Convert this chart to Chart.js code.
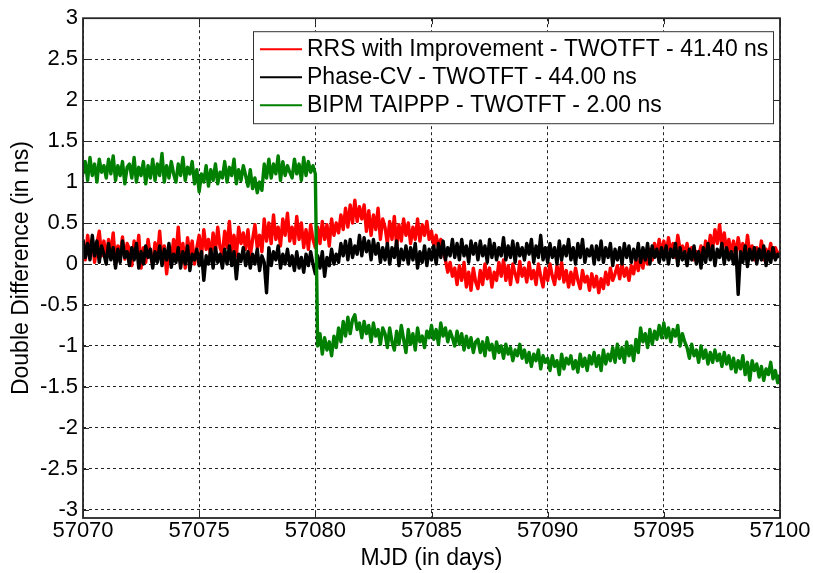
<!DOCTYPE html>
<html>
<head>
<meta charset="utf-8">
<script src="https://cdn.jsdelivr.net/npm/chart.js@4.4.1/dist/chart.umd.min.js"></script>
<style>
  html, body { margin: 0; padding: 0; background: #fff; }
  #c { display: block; }
</style>
</head>
<body>
<canvas id="c" width="813" height="573"></canvas>
<script>
/* Double difference vs TWOTFT, MJD 57070-57100 */

const MJD_START = 57070;
const MJD_STEP = 0.1; // one reading every 0.1 day, 10 per row below

const xTicks = [57070, 57075, 57080, 57085, 57090, 57095, 57100];
const yTicks = [-3, -2.5, -2, -1.5, -1, -0.5, 0, 0.5, 1, 1.5, 2, 2.5, 3];

const seriesNames = [
  'RRS with Improvement - TWOTFT - 41.40 ns',
  'Phase-CV - TWOTFT - 44.00 ns',
  'BIPM TAIPPP - TWOTFT - 2.00 ns'
];
const seriesColors = ['#ff0000', '#000000', '#008000'];

// RRS with Improvement
const rrs = [
  0.22, 0.05, 0.35, 0.12, 0.30, 0.02, 0.25, 0.40, 0.10, 0.28,
  0.05, 0.30, 0.12, 0.38, 0.00, 0.22, 0.10, 0.33, 0.06, 0.25,
  0.18, -0.02, 0.28, 0.08, 0.35, -0.05, 0.20, 0.02, 0.30, 0.10,
  0.00, 0.26, 0.08, 0.40, 0.04, 0.22, -0.12, 0.18, 0.05, 0.30,
  0.10, 0.45, 0.05, 0.25, -0.05, 0.32, 0.12, 0.28, 0.00, 0.20,
  0.35, 0.10, 0.42, 0.18, 0.30, 0.08, 0.38, 0.15, 0.45, 0.20,
  0.12, 0.40, 0.20, 0.52, 0.15, 0.35, 0.10, 0.45, 0.25, 0.38,
  0.18, 0.42, 0.10, 0.30, 0.48, 0.20, 0.35, 0.15, 0.55, 0.28,
  0.50, 0.25, 0.60, 0.30, 0.45, 0.22, 0.55, 0.35, 0.62, 0.28,
  0.45, 0.25, 0.58, 0.30, 0.50, 0.20, 0.42, 0.18, 0.48, 0.30,
  0.20, 0.45, 0.25, 0.52, 0.30, 0.48, 0.22, 0.55, 0.35, 0.50,
  0.38, 0.60, 0.42, 0.68, 0.45, 0.72, 0.50, 0.78, 0.52, 0.70,
  0.55, 0.72, 0.40, 0.65, 0.35, 0.60, 0.42, 0.68, 0.30, 0.55,
  0.45, 0.25, 0.52, 0.30, 0.58, 0.22, 0.48, 0.28, 0.55, 0.35,
  0.50, 0.25, 0.45, 0.30, 0.55, 0.28, 0.48, 0.35, 0.52, 0.30,
  0.40, 0.22, 0.35, 0.20, 0.30, 0.15, 0.05, -0.10, 0.02, -0.15,
  -0.05, -0.25, -0.02, -0.20, 0.02, -0.28, -0.10, -0.32, -0.05, -0.22,
  -0.30, -0.08, -0.25, 0.00, -0.18, -0.05, -0.28, -0.10, -0.20, 0.02,
  -0.15, 0.05, -0.20, -0.02, -0.25, 0.00, -0.12, -0.22, 0.03, -0.15,
  -0.05, -0.22, 0.02, -0.18, -0.08, -0.25, 0.00, -0.15, -0.28, -0.05,
  -0.20, 0.00, -0.15, -0.25, -0.02, -0.18, 0.02, -0.22, -0.08, -0.28,
  -0.10, -0.25, -0.05, -0.20, -0.30, -0.08, -0.22, -0.15, -0.32, -0.12,
  -0.28, -0.15, -0.35, -0.18, -0.30, -0.10, -0.25, -0.05, -0.20, -0.12,
  -0.02, -0.18, 0.00, -0.15, -0.05, -0.20, -0.02, -0.12, 0.05, -0.08,
  0.10, -0.05, 0.12, 0.00, 0.18, 0.05, 0.25, 0.10, 0.30, 0.12,
  0.28, 0.10, 0.32, 0.15, 0.25, 0.08, 0.35, 0.18, 0.22, 0.12,
  0.25, 0.08, 0.20, 0.05, 0.15, 0.10, 0.22, 0.08, 0.28, 0.12,
  0.35, 0.18, 0.42, 0.25, 0.48, 0.20, 0.38, 0.15, 0.30, 0.12,
  0.28, 0.10, 0.32, 0.15, 0.25, 0.08, 0.35, 0.12, 0.22, 0.05,
  0.20, 0.08, 0.28, 0.05, 0.18, 0.10, 0.25, 0.08, 0.20, 0.12,
  0.15
];

// Phase-CV
const phaseCv = [
  0.30, 0.08, 0.25, 0.05, 0.35, 0.10, 0.28, 0.02, 0.22, 0.12,
  0.00, 0.25, 0.05, 0.20, -0.05, 0.18, 0.02, 0.28, 0.08, 0.15,
  -0.02, 0.20, 0.05, 0.25, -0.05, 0.15, 0.00, 0.22, 0.08, 0.18,
  -0.05, 0.15, 0.02, 0.22, -0.02, 0.18, 0.05, 0.25, -0.04, 0.12,
  0.02, 0.20, -0.05, 0.15, 0.00, 0.22, -0.08, 0.12, 0.05, 0.18,
  -0.02, 0.15, -0.20, 0.10, 0.00, 0.18, -0.05, 0.20, 0.02, 0.12,
  -0.05, 0.18, 0.00, 0.22, -0.02, 0.15, -0.18, 0.12, 0.03, 0.20,
  -0.02, 0.15, -0.05, 0.12, 0.00, 0.18, -0.08, 0.10, 0.02, -0.35,
  0.20, -0.02, 0.15, 0.05, 0.22, -0.05, 0.12, 0.00, 0.18, -0.02,
  0.10, -0.08, 0.15, -0.05, 0.08, -0.10, 0.12, -0.02, 0.15, 0.00,
  -0.12, 0.10, -0.05, 0.15, -0.15, 0.08, -0.02, 0.18, 0.00, 0.12,
  0.02, 0.25, 0.10, 0.28, 0.05, 0.30, 0.08, 0.22, 0.12, 0.35,
  0.10, 0.32, 0.15, 0.28, 0.05, 0.30, 0.12, 0.25, 0.02, 0.20,
  0.05, 0.25, 0.00, 0.20, 0.08, 0.28, -0.02, 0.18, 0.05, 0.22,
  0.00, 0.20, 0.05, 0.25, -0.05, 0.15, 0.02, 0.22, -0.02, 0.18,
  0.05, 0.22, 0.00, 0.25, 0.08, 0.28, 0.05, 0.20, 0.10, 0.30,
  0.08, 0.25, 0.05, 0.30, 0.10, 0.22, 0.02, 0.28, 0.12, 0.25,
  0.05, 0.28, 0.10, 0.22, 0.02, 0.30, 0.08, 0.25, 0.05, 0.20,
  0.10, 0.32, 0.05, 0.22, 0.08, 0.28, 0.02, 0.25, 0.10, 0.20,
  0.05, 0.25, 0.12, 0.30, 0.02, 0.22, 0.08, 0.35, 0.05, 0.20,
  0.02, 0.25, 0.08, 0.20, 0.00, 0.28, 0.05, 0.22, 0.10, 0.30,
  0.05, 0.20, 0.00, 0.25, 0.08, 0.30, 0.02, 0.18, 0.10, 0.22,
  0.00, 0.22, 0.05, 0.28, 0.02, 0.20, 0.08, 0.25, -0.02, 0.18,
  0.05, 0.20, 0.00, 0.25, 0.08, 0.22, 0.02, 0.18, 0.05, 0.25,
  0.02, 0.20, 0.05, 0.25, 0.00, 0.22, 0.08, 0.18, 0.02, 0.20,
  0.05, 0.22, 0.00, 0.18, 0.08, 0.25, -0.02, 0.20, 0.05, 0.15,
  -0.02, 0.18, 0.05, 0.22, 0.00, 0.15, -0.05, 0.20, 0.02, 0.25,
  0.05, 0.22, -0.02, 0.18, 0.08, 0.25, 0.00, 0.20, 0.05, 0.15,
  0.00, 0.20, -0.37, 0.15, 0.02, 0.22, -0.03, 0.18, 0.05, 0.20,
  0.00, 0.18, 0.05, 0.22, -0.02, 0.15, 0.02, 0.20, 0.05, 0.12,
  0.08
];

// BIPM TAIPPP (step at MJD 57080)
const taippp = [
  1.10, 1.25, 1.02, 1.30, 1.08, 1.22, 1.00, 1.28, 1.12, 1.20,
  1.05, 1.28, 1.10, 1.32, 1.02, 1.20, 1.08, 1.25, 0.98, 1.18,
  1.22, 1.05, 1.30, 1.00, 1.18, 1.08, 1.25, 0.98, 1.20, 1.05,
  1.28, 1.02, 1.22, 1.08, 1.35, 1.00, 1.20, 1.05, 1.25, 1.10,
  1.00, 1.22, 1.08, 1.30, 1.02, 1.18, 1.10, 1.25, 0.98, 1.15,
  0.88, 1.10, 1.00, 1.20, 0.95, 1.15, 1.02, 1.22, 0.98, 1.12,
  1.05, 1.25, 1.00, 1.18, 1.08, 1.28, 0.98, 1.15, 1.02, 1.20,
  1.08, 0.95, 1.15, 0.92, 1.05, 0.87, 1.00, 0.90, 1.22, 1.05,
  1.28, 1.05, 1.22, 1.10, 1.32, 1.02, 1.25, 1.08, 1.20, 1.12,
  1.05, 1.28, 1.10, 1.22, 1.02, 1.30, 1.08, 1.25, 1.12, 1.20,
  1.10, -1.00, -0.85, -1.10, -0.90, -1.05, -0.95, -1.12, -0.88, -1.02,
  -0.78, -0.95, -0.70, -0.88, -0.65, -0.85, -0.68, -0.62, -0.80, -0.72,
  -0.90, -0.70, -0.85, -0.75, -0.95, -0.72, -0.88, -0.80, -0.98, -0.78,
  -0.85, -1.02, -0.78, -0.95, -1.05, -0.82, -0.98, -0.75, -0.92, -1.08,
  -0.80, -0.98, -0.85, -1.05, -0.78, -0.95, -0.88, -1.02, -0.82, -0.90,
  -0.75, -0.92, -0.80, -0.98, -0.72, -0.88, -0.78, -0.95, -0.82, -0.90,
  -1.00, -0.82, -0.98, -0.85, -1.05, -0.88, -1.02, -0.90, -1.08, -0.95,
  -0.92, -1.08, -0.95, -1.12, -0.90, -1.05, -0.98, -1.15, -0.95, -1.08,
  -1.00, -1.15, -0.98, -1.10, -1.02, -1.18, -1.05, -1.12, -0.98, -1.15,
  -1.05, -1.20, -1.08, -1.25, -1.10, -1.18, -1.05, -1.28, -1.12, -1.20,
  -1.15, -1.30, -1.12, -1.25, -1.18, -1.35, -1.10, -1.28, -1.15, -1.22,
  -1.12, -1.28, -1.18, -1.32, -1.10, -1.25, -1.15, -1.30, -1.12, -1.22,
  -1.08, -1.25, -1.12, -1.30, -1.05, -1.22, -1.10, -1.18, -1.02, -1.20,
  -0.98, -1.15, -1.02, -1.20, -0.95, -1.12, -1.00, -1.18, -0.92, -1.08,
  -0.78, -0.95, -0.85, -1.02, -0.80, -0.98, -0.82, -0.92, -0.75, -0.90,
  -0.72, -0.90, -0.78, -0.95, -0.80, -0.88, -0.75, -1.00, -0.85, -0.95,
  -1.02, -1.15, -0.98, -1.12, -1.05, -1.20, -1.00, -1.15, -1.05, -1.22,
  -1.08, -1.20, -1.05, -1.18, -1.10, -1.25, -1.08, -1.22, -1.12, -1.28,
  -1.15, -1.32, -1.18, -1.28, -1.12, -1.35, -1.20, -1.42, -1.18, -1.30,
  -1.22, -1.38, -1.25, -1.42, -1.28, -1.35, -1.20, -1.40, -1.30, -1.45,
  -1.35
];

const FONT = "'Liberation Sans', Arial, sans-serif";

function toPoints(vals) {
  return vals.map((v, i) => ({ x: MJD_START + i * MJD_STEP, y: v }));
}

// matlab-like box, inward ticks and the framed legend
const framePlugin = {
  id: 'frame',
  afterDatasetsDraw(chart) {
    const { ctx, chartArea: a, scales: { x, y } } = chart;
    ctx.save();
    ctx.strokeStyle = '#262626';
    ctx.lineWidth = 1;
    ctx.beginPath();
    xTicks.forEach(v => {
      const px = Math.round(x.getPixelForValue(v)) + 0.5;
      ctx.moveTo(px, a.bottom); ctx.lineTo(px, a.bottom - 6);
      ctx.moveTo(px, a.top); ctx.lineTo(px, a.top + 6);
    });
    yTicks.forEach(v => {
      const py = Math.round(y.getPixelForValue(v)) + 0.5;
      ctx.moveTo(a.left, py); ctx.lineTo(a.left + 6, py);
      ctx.moveTo(a.right, py); ctx.lineTo(a.right - 6, py);
    });
    ctx.stroke();
    ctx.lineWidth = 1.8;
    ctx.strokeRect(a.left, a.top, a.right - a.left, a.bottom - a.top);

    // legend
    const lx = a.left + 170, ly = a.top + 13, lw = a.right - 7 - lx, lh = 92;
    ctx.fillStyle = '#fff';
    ctx.fillRect(lx, ly, lw, lh);
    ctx.lineWidth = 1;
    ctx.strokeStyle = '#333';
    ctx.strokeRect(lx + 0.5, ly + 0.5, lw, lh);
    ctx.font = '23px ' + FONT;
    ctx.textBaseline = 'middle';
    ctx.textAlign = 'left';
    chart.data.datasets.forEach((ds, i) => {
      const ry = ly + 17 + i * 28;
      ctx.strokeStyle = ds.borderColor;
      ctx.lineWidth = 2;
      ctx.beginPath();
      ctx.moveTo(lx + 7, ry + 1); ctx.lineTo(lx + 49, ry + 1);
      ctx.stroke();
      ctx.fillStyle = '#000';
      ctx.fillText(ds.label, lx + 54, ry + 1);
    });
    ctx.restore();
  }
};

const bgPlugin = {
  id: 'bg',
  beforeDraw(chart) {
    const { ctx, width, height } = chart;
    ctx.save();
    ctx.fillStyle = '#fff';
    ctx.fillRect(0, 0, width, height);
    ctx.restore();
  }
};

const seriesValues = [rrs, phaseCv, taippp];
const datasets = seriesValues.map((vals, i) => ({
  label: seriesNames[i],
  data: toPoints(vals),
  borderColor: seriesColors[i],
  backgroundColor: seriesColors[i],
  borderWidth: 3.4,
  borderJoinStyle: 'round',
  pointRadius: 0,
  tension: 0,
  fill: false,
  order: 2 - i // green on top, red underneath
}));

new Chart(document.getElementById('c'), {
  type: 'line',
  data: { datasets },
  options: {
    responsive: false,
    animation: false,
    parsing: false,
    normalized: true,
    layout: { padding: { left: 0, right: 33, top: 17, bottom: 0 } },
    plugins: {
      legend: { display: false },
      tooltip: { enabled: false },
      decimation: { enabled: false }
    },
    scales: {
      x: {
        type: 'linear',
        min: 57070,
        max: 57100,
        afterBuildTicks: s => { s.ticks = xTicks.map(v => ({ value: v })); },
        afterFit: s => { s.height = 55; },
        grid: { color: '#222', lineWidth: 1, drawTicks: false, borderDash: [3, 3] },
        border: { display: false, dash: [3, 3] },
        ticks: {
          padding: 0,
          color: '#000',
          font: { family: FONT, size: 22 },
          maxRotation: 0,
          callback: v => String(v)
        },
        title: {
          display: true,
          text: 'MJD (in days)',
          color: '#000',
          font: { family: FONT, size: 23 },
          padding: { top: 0, bottom: 1 }
        }
      },
      y: {
        min: -3.1,
        max: 3,
        afterBuildTicks: s => { s.ticks = yTicks.map(v => ({ value: v })); },
        afterFit: s => { s.width = 83; },
        grid: { color: '#222', lineWidth: 1, drawTicks: false, borderDash: [3, 3] },
        border: { display: false, dash: [3, 3] },
        ticks: {
          padding: 5,
          color: '#000',
          font: { family: FONT, size: 22 },
          callback: v => String(v)
        },
        title: {
          display: true,
          text: 'Double Difference (in ns)',
          color: '#000',
          font: { family: FONT, size: 23 },
          padding: { top: 8, bottom: 0 }
        }
      }
    }
  },
  plugins: [bgPlugin, framePlugin]
});
</script>
</body>
</html>
